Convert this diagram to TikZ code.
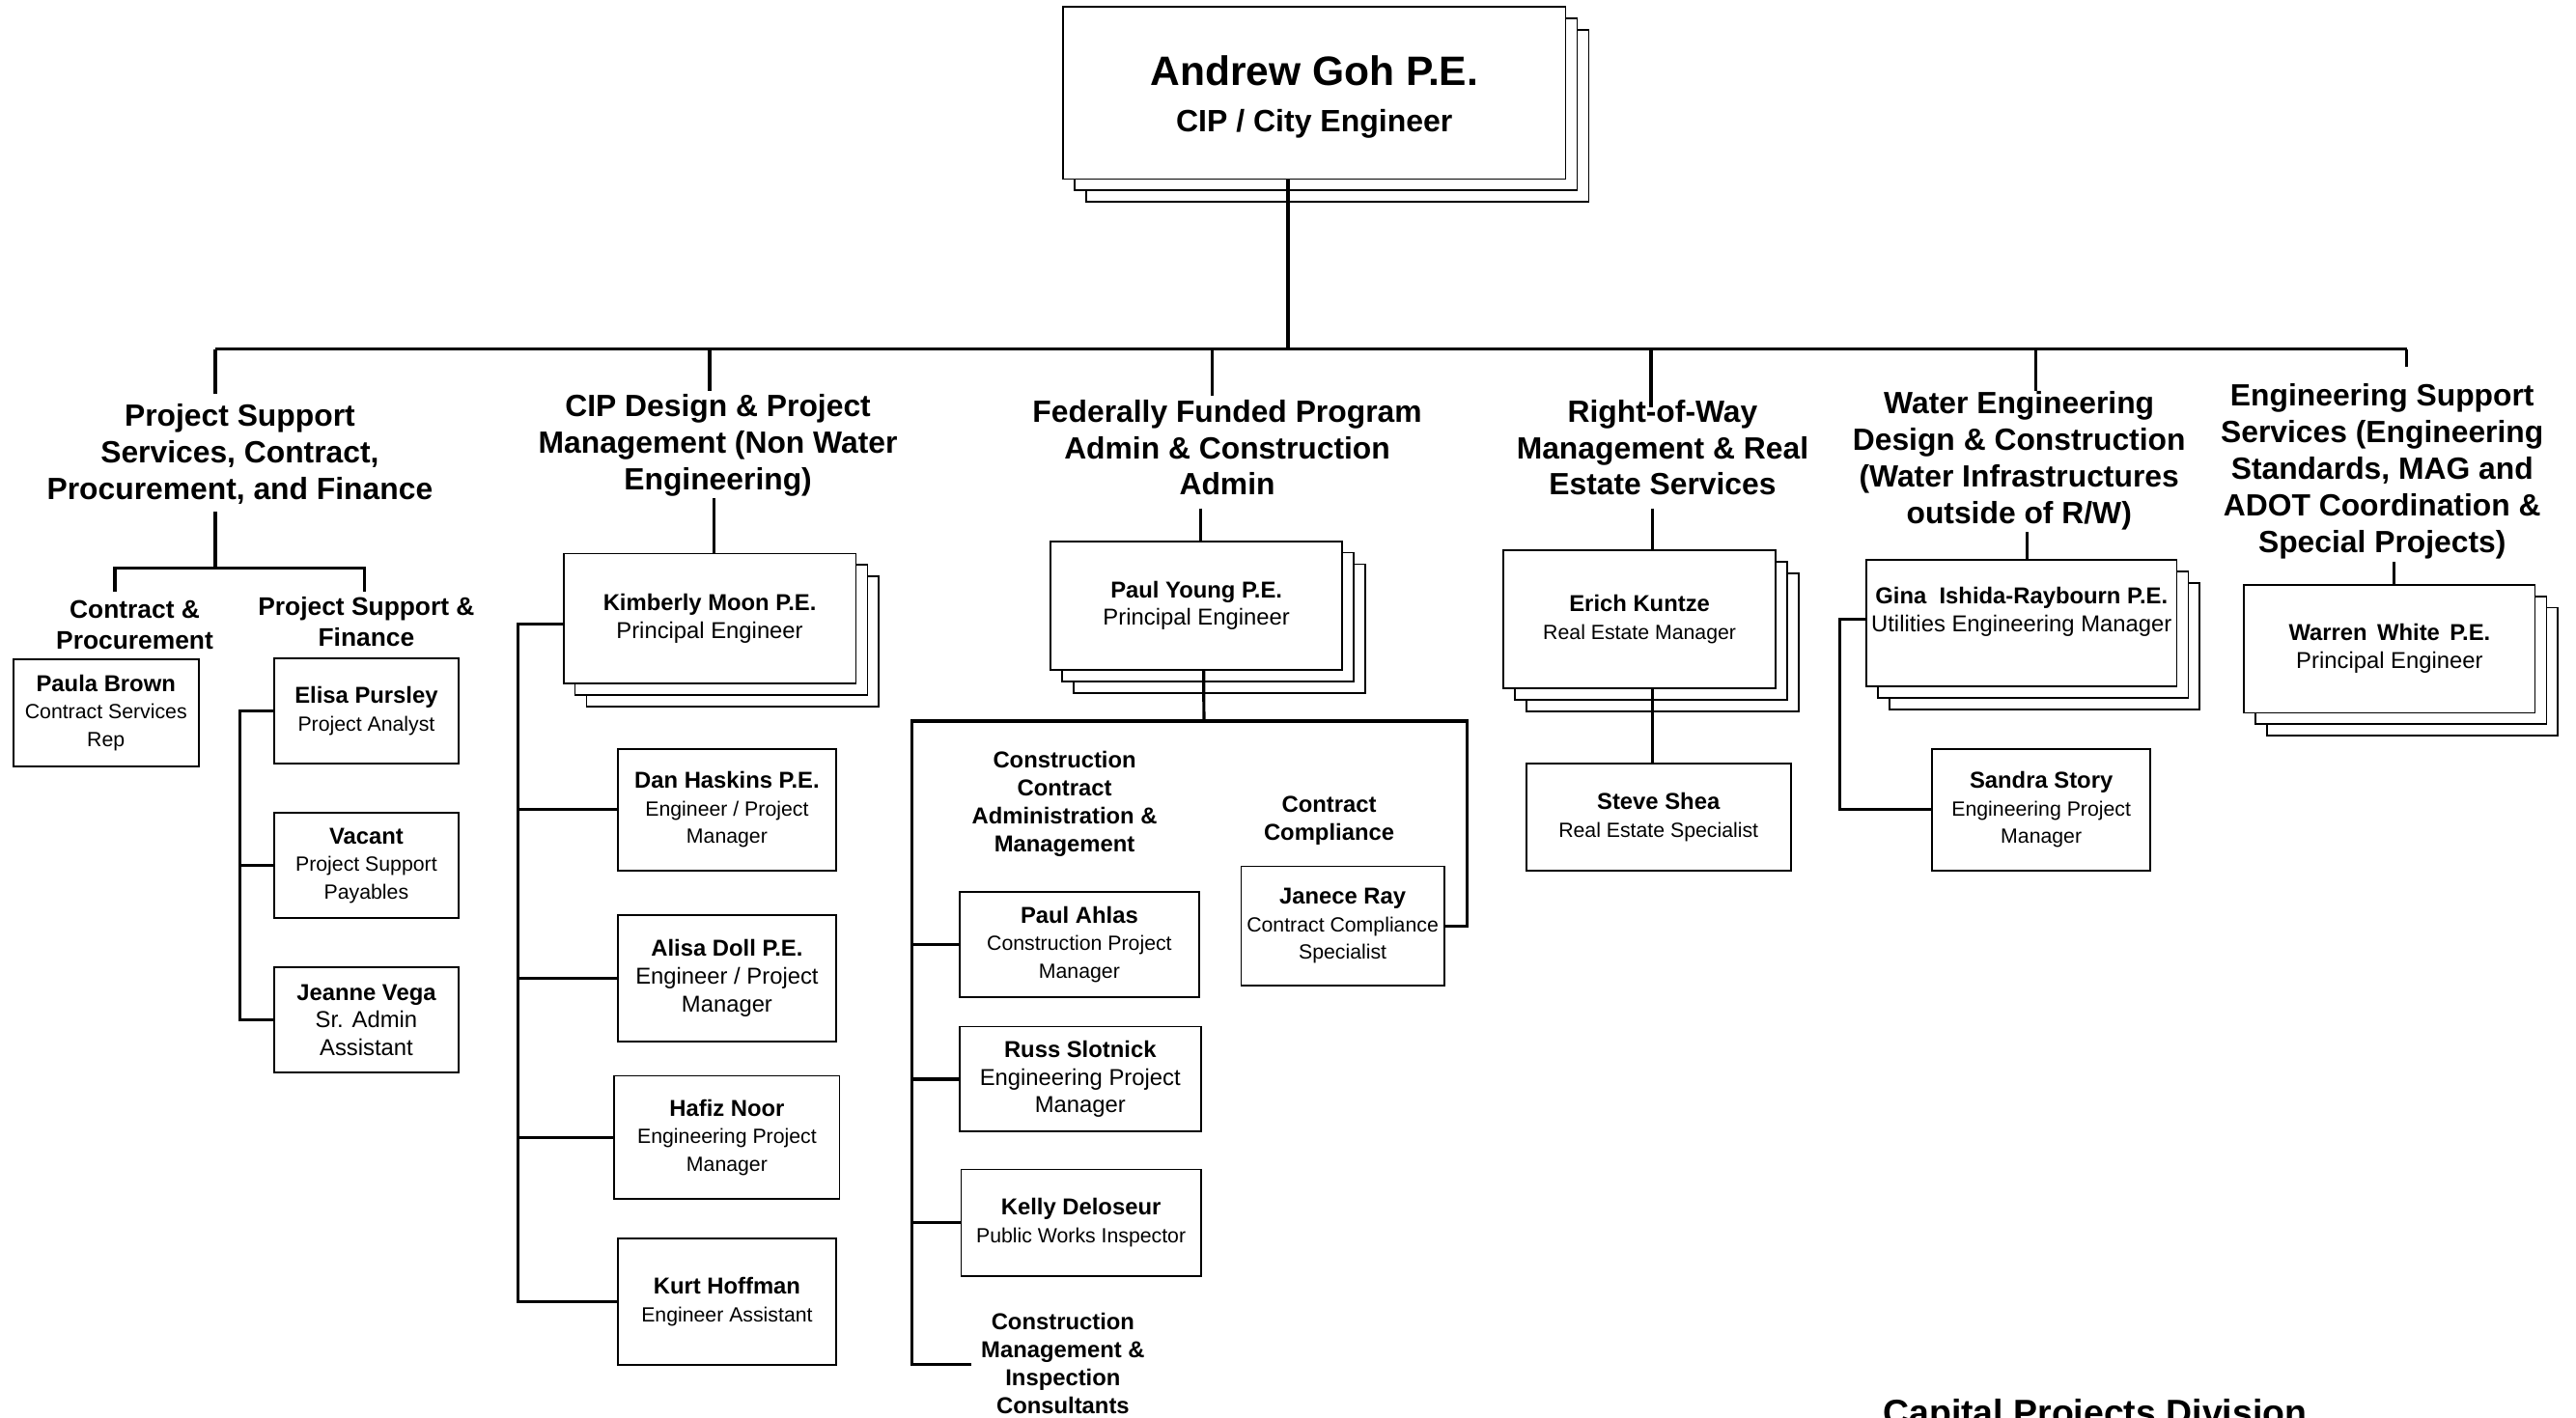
\documentclass[tikz,border=0pt]{standalone}
\usepackage{fontspec}
\setmainfont{Liberation Sans}
\usetikzlibrary{calc}
\newcommand\sizeat[2]{\fontsize{#1}{#2}\selectfont}
\newcommand\nm[1]{{\sizeat{14}{16.8}\bfseries #1}}
\newcommand\stackshadow[5]{%
  \node[box,minimum width=#4pt,minimum height=#5pt] (#1-s2) at (#2+14,#3+14) {};
  \node[box,minimum width=#4pt,minimum height=#5pt] (#1-s1) at (#2+7,#3+7) {};
}
\begin{document}
\begin{tikzpicture}[x=1pt,y=-1pt,
  box/.style={draw,line width=1.05pt,fill=white,inner sep=0pt,align=center,font=\sizeat{12.5}{16.8}},
  big/.style={font=\sizeat{14}{16.8}},
  conn/.style={line width=1.9pt},
  hdr/.style={inner sep=0pt,align=center,font=\sizeat{18.7}{22.3}\bfseries},
  shdr/.style={inner sep=0pt,align=center,font=\sizeat{15.5}{19}\bfseries},
  mhdr/.style={inner sep=0pt,align=center,font=\sizeat{14}{17}\bfseries},
]
\fill[white] (0,0) rectangle (1568,863);
\useasboundingbox (0,0) rectangle (1568,863);

% ---------- top ----------
\stackshadow{ag}{800}{56.5}{306}{105}
\node[box,minimum width=306pt,minimum height=105pt,font=\sizeat{18.8}{28}\bfseries] (ag) at (800,56.5)
  {\rule{0pt}{23pt}{\sizeat{25}{28}\bfseries Andrew Goh P.E.}\\CIP / City Engineer};

% ---------- headers ----------
\node[hdr] (hps) at (146,276.5) {Project Support\\Services, Contract,\\Procurement, and Finance};
\node[hdr] (hcip) at (437,271) {CIP Design \& Project\\Management (Non Water\\Engineering)};
\node[hdr] (hfed) at (747,272.5) {Federally Funded Program\\Admin \& Construction\\Admin};
\node[hdr] (hrow) at (1012,272.5) {Right-of-Way\\Management \& Real\\Estate Services};
\node[hdr] (hwat) at (1229,280.5) {Water Engineering\\Design \& Construction\\(Water Infrastructures\\outside of R/W)};
\node[hdr] (heng) at (1450,287) {Engineering Support\\Services (Engineering\\Standards, MAG and\\ADOT Coordination \&\\Special Projects)};

\node[shdr] (hcp) at (82,380.5) {Contract \&\\Procurement};
\node[shdr] (hpsf) at (223,378.5) {Project Support \&\\Finance};
\node[mhdr] (hcca) at (648,489.5) {Construction\\Contract\\Administration \&\\Management};
\node[mhdr] (hcc) at (809,499.5) {Contract\\Compliance};
\node[mhdr] (hcmi) at (647,830) {Construction\\Management \&\\Inspection\\Consultants};

% ---------- project support ----------
\node[box,minimum width=113pt,minimum height=65pt] (pb) at (64.5,434) {\nm{Paula Brown}\\Contract Services\\Rep};
\node[box,minimum width=112pt,minimum height=64pt] (ep) at (223,433) {\nm{Elisa Pursley}\\Project Analyst};
\node[box,minimum width=112pt,minimum height=64pt] (va) at (223,527) {\nm{Vacant}\\Project Support\\Payables};
\node[box,big,minimum width=112pt,minimum height=64pt] (jv) at (223,621) {\nm{Jeanne Vega}\\Sr. Admin\\Assistant};

% ---------- CIP design ----------
\stackshadow{km}{432}{376.5}{178}{79}
\node[box,big,minimum width=178pt,minimum height=79pt] (km) at (432,376.5) {\nm{Kimberly Moon P.E.}\\Principal Engineer};
\node[box,minimum width=133pt,minimum height=74pt] (dh) at (442.5,493) {\nm{Dan Haskins P.E.}\\Engineer / Project\\Manager};
\node[box,big,minimum width=133pt,minimum height=77pt] (ad) at (442.5,595.5) {\nm{Alisa Doll P.E.}\\Engineer / Project\\Manager};
\node[box,minimum width=137pt,minimum height=75pt] (hn) at (442.5,692.5) {\nm{Hafiz Noor}\\Engineering Project\\Manager};
\node[box,minimum width=133pt,minimum height=77pt] (kh) at (442.5,792.5) {\nm{Kurt Hoffman}\\Engineer Assistant};

% ---------- federally funded ----------
\stackshadow{py}{728.25}{368.75}{177.5}{78.5}
\node[box,big,minimum width=177.5pt,minimum height=78.5pt] (py) at (728.25,368.75) {\nm{Paul Young P.E.}\\Principal Engineer};
\node[box,minimum width=146pt,minimum height=64pt] (pa) at (657,575) {\nm{Paul Ahlas}\\Construction Project\\Manager};
\node[box,big,minimum width=147pt,minimum height=64pt] (rs) at (657.5,657) {\nm{Russ Slotnick}\\Engineering Project\\Manager};
\node[box,minimum width=146pt,minimum height=65pt] (kd) at (658,744.5) {\nm{Kelly Deloseur}\\Public Works Inspector};
\node[box,minimum width=123.5pt,minimum height=72.5pt] (jr) at (817.25,563.75) {\nm{Janece Ray}\\Contract Compliance\\Specialist};

% ---------- right of way ----------
\stackshadow{ek}{998}{377}{166}{84}
\node[box,minimum width=166pt,minimum height=84pt] (ek) at (998,377) {\nm{Erich Kuntze}\\Real Estate Manager};
\node[box,minimum width=161pt,minimum height=65pt] (ss) at (1009.5,497.5) {\nm{Steve Shea}\\Real Estate Specialist};

% ---------- water ----------
\stackshadow{gi}{1230.5}{379.5}{189}{77}
\node[box,big,minimum width=189pt,minimum height=77pt] (gi) at (1230.5,379.5) {\nm{Gina\ \ Ishida-Raybourn P.E.}\\Utilities Engineering Manager\\\mbox{}};
\node[box,minimum width=133pt,minimum height=74pt] (sst) at (1242.5,493) {\nm{Sandra Story}\\Engineering Project\\Manager};

% ---------- engineering support ----------
\stackshadow{ww}{1454.5}{395}{177}{78}
\node[box,big,minimum width=177pt,minimum height=78pt] (ww) at (1454.5,395) {\nm{Warren\hspace{2.2pt} White\hspace{2.2pt} P.E.}\\Principal Engineer};

% ---------- footer ----------
\node[anchor=base west,inner sep=0pt,font=\sizeat{22}{26}\bfseries] (cpd) at (1146,868) {Capital Projects Division};

% ---------- connectors ----------
\coordinate (busL) at (131,212.5);
\coordinate (busR) at (1465,212.5);
\coordinate (tCIP) at (432,212.5);
\coordinate (tFED) at (738,212.5);
\coordinate (tROW) at (1005,212.5);
\coordinate (tWAT) at (1239,212.5);
\coordinate (dPS) at (131,240);
\coordinate (dCIP) at (432,238);
\coordinate (dFED) at (738,241);
\coordinate (dROW) at (1005,248);
\coordinate (dWAT) at (1239,238);
\coordinate (dENG) at (1465,223.5);

\draw[conn] ([xshift=-16pt]ag.south) -- ([xshift=-16pt]ag.south |- busL);
\draw[conn] (busL) -- (busR);
\draw[conn] (busL) -- (dPS);
\draw[conn] (tCIP) -- (dCIP);
\draw[conn] (tFED) -- (dFED);
\draw[conn] (tROW) -- (dROW);
\draw[conn] (tWAT) -- (dWAT);
\draw[conn] (busR) -- (dENG);

% project support
\coordinate (psA) at (131,311.5);
\coordinate (psJ) at (131,346);
\coordinate (cpJ) at (70,346);
\coordinate (pfJ) at (222,346);
\coordinate (cpE) at (70,360.5);
\coordinate (pfE) at (222,360.5);
\draw[conn] (psA) -- (psJ);
\draw[conn] (cpE) -- (cpJ) -- (pfJ) -- (pfE);
\coordinate (ebx) at (146,433);
\draw[conn] (ep.west) -- (ep.west -| ebx) -- (jv.west -| ebx) -- (jv.west);
\draw[conn] (va.west -| ebx) -- (va.west);

% CIP
\coordinate (ciA) at (434.5,303);
\draw[conn] (ciA) -- ([xshift=2.5pt]km.north);
\coordinate (cbx) at (315.4,380);
\draw[conn] ([yshift=-3.5pt]km.west) -- (cbx) -- (kh.west -| cbx) -- (kh.west);
\draw[conn] (dh.west -| cbx) -- (dh.west);
\draw[conn] (ad.west -| cbx) -- (ad.west);
\draw[conn] (hn.west -| cbx) -- (hn.west);

% federally funded
\coordinate (fdA) at (731,309.5);
\draw[conn] (fdA) -- ([xshift=2.75pt]py.north);
\coordinate (fbJ) at (732.8,439);
\coordinate (fbL) at (555,439);
\coordinate (fbR) at (893,439);
\coordinate (cmT) at (555,830.5);
\coordinate (cmE) at (591,830.5);
\draw[conn] ([xshift=4.5pt]py.south) -- (fbJ);
\draw[conn] (cmE) -- (cmT) -- (fbL) -- (fbR) -- (jr.east -| fbR) -- (jr.east);
\draw[conn] (pa.west -| fbL) -- (pa.west);
\draw[conn] (rs.west -| fbL) -- (rs.west);
\draw[conn] (kd.west -| fbL) -- (kd.west);

% right of way
\coordinate (rwA) at (1006,309.5);
\draw[conn] (rwA) -- ([xshift=8pt]ek.north);
\draw[conn] ([xshift=8pt]ek.south) -- ([xshift=8pt]ek.south |- ss.north);

% water
\coordinate (waA) at (1234,324);
\draw[conn] (waA) -- ([xshift=3.5pt]gi.north);
\coordinate (wbx) at (1120,377);
\draw[conn] ([yshift=2.5pt]gi.west) -- (wbx) -- (sst.west -| wbx) -- (sst.west);

% engineering support
\coordinate (enA) at (1457,342);
\draw[conn] (enA) -- ([xshift=2.5pt]ww.north);
\end{tikzpicture}
\end{document}
